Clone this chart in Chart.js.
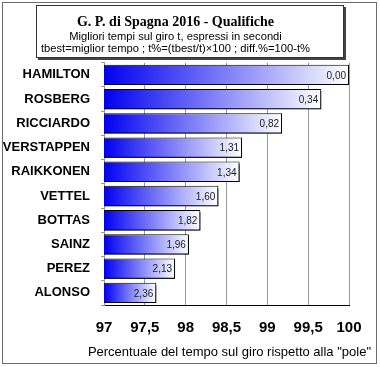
<!DOCTYPE html>
<html>
<head>
<meta charset="utf-8">
<script src="https://cdn.jsdelivr.net/npm/chart.js@4"></script>
<style>
  html, body { margin: 0; padding: 0; background: #fff; }
  #wrap { position: relative; width: 380px; height: 367px; }
</style>
</head>
<body>
<div id="wrap"><canvas id="myChart" width="380" height="367"></canvas></div>
<script>
  const drivers = [
    'HAMILTON',
    'ROSBERG',
    'RICCIARDO',
    'VERSTAPPEN',
    'RAIKKONEN',
    'VETTEL',
    'BOTTAS',
    'SAINZ',
    'PEREZ',
    'ALONSO',
  ];

  // t% = (tbest/t) x 100
  const tPct = [100, 99.66, 99.18, 98.69, 98.66, 98.40, 98.18, 98.04, 97.87, 97.64];

  // diff.% = 100 - t%
  const diffLabels = ['0,00', '0,34', '0,82', '1,31', '1,34', '1,60', '1,82', '1,96', '2,13', '2,36'];

  const xTicks = [97, 97.5, 98, 98.5, 99, 99.5, 100];

  const xTitle = 'Percentuale del tempo sul giro rispetto alla "pole"';

  const barGradient = (ctx) => {
    const chart = ctx.chart;
    if (!chart.chartArea || !chart.scales.x) return '#0000ff';
    const x0 = chart.scales.x.getPixelForValue(97);
    const x1 = chart.scales.x.getPixelForValue(ctx.raw);
    const g = chart.ctx.createLinearGradient(x0, 0, x1, 0);
    g.addColorStop(0, '#0000f0');
    g.addColorStop(1, '#ffffff');
    return g;
  };

  // frame + title box + bar shadow + value labels + axis title
  const decor = {
    id: 'decor',
    beforeDraw(chart) {
      const c = chart.ctx;
      c.save();
      c.fillStyle = '#fff';
      c.fillRect(0, 0, chart.width, chart.height);
      c.strokeStyle = '#6d6d6d';
      c.lineWidth = 1;
      c.strokeRect(2.5, 2.5, 374, 361);
      // title box shadow + box
      c.fillStyle = '#444';
      c.fillRect(38, 7, 308, 53);
      c.fillStyle = '#fff';
      c.fillRect(36, 5, 308, 53);
      c.strokeStyle = '#333';
      c.strokeRect(36.5, 5.5, 307, 52);
      c.restore();
    },
    beforeDatasetDraw(chart) {
      const c = chart.ctx;
      c.save();
      c.shadowColor = '#000';
      c.shadowOffsetX = 2;
      c.shadowOffsetY = 2;
      c.shadowBlur = 0;
    },
    afterDatasetDraw(chart) {
      const c = chart.ctx;
      c.restore();
      const meta = chart.getDatasetMeta(0);
      c.save();
      c.font = '10px Arial, "Liberation Sans"';
      c.fillStyle = '#222';
      c.textAlign = 'right';
      c.textBaseline = 'middle';
      meta.data.forEach((bar, i) => {
        c.fillText(diffLabels[i], bar.x - 3, bar.y + 1);
      });
      c.restore();
    },
    afterDraw(chart) {
      const c = chart.ctx;
      c.save();
      c.font = '13px Arial, "Liberation Sans"';
      c.fillStyle = '#000';
      c.textAlign = 'right';
      c.textBaseline = 'middle';
      c.fillText(xTitle, 371, 352);
      c.restore();
    }
  };

  const data = {
    labels: drivers,
    datasets: [{
      label: 't%',
      data: tPct,
      backgroundColor: barGradient,
      borderColor: '#000',
      borderWidth: 1,
      borderSkipped: false,
      barPercentage: 0.84,
      categoryPercentage: 1,
    }]
  };

  const config = {
    type: 'bar',
    data: data,
    plugins: [decor],
    options: {
      indexAxis: 'y',
      responsive: false,
      animation: false,
      layout: { padding: { top: 4, right: 31, left: 2, bottom: 0 } },
      plugins: {
        legend: { display: false },
        tooltip: { enabled: false },
        title: {
          display: true,
          text: 'G. P. di Spagna 2016 - Qualifiche',
          font: { family: '"Times New Roman", "Liberation Serif"', size: 14, weight: 'bold', lineHeight: 1.2 },
          color: '#000',
          padding: { top: 10, bottom: 0 }
        },
        subtitle: {
          display: true,
          text: ['Migliori tempi sul giro t, espressi in secondi',
                 'tbest=miglior tempo ; t%=(tbest/t)\u00d7100 ; diff.%=100-t%'],
          font: { family: 'Arial, "Liberation Sans"', size: 11.2, lineHeight: 1.07 },
          color: '#000',
          padding: { top: 0, bottom: 8 }
        }
      },
      scales: {
        x: {
          min: 97,
          max: 100,
          afterBuildTicks(axis) { axis.ticks = xTicks.map(v => ({ value: v })); },
          afterFit(axis) { axis.height = 62; },
          grid: { color: '#9a9a9a', drawTicks: false },
          border: { color: '#000' },
          ticks: {
            color: '#000',
            font: { family: 'Arial, "Liberation Sans"', size: 15, weight: 'bold' },
            padding: 14,
            maxRotation: 0,
            callback: (v) => String(v).replace('.', ',')
          }
        },
        y: {
          afterFit(axis) { axis.width = 102; },
          grid: { display: true, drawOnChartArea: false, offset: true, tickLength: 3, color: '#999' },
          border: { color: '#999' },
          ticks: {
            color: '#000',
            font: { family: 'Arial, "Liberation Sans"', size: 13, weight: 'bold' },
            padding: 11
          }
        }
      }
    }
  };

  const myChart = new Chart(
    document.getElementById('myChart'),
    config
  );
</script>
</body>
</html>
